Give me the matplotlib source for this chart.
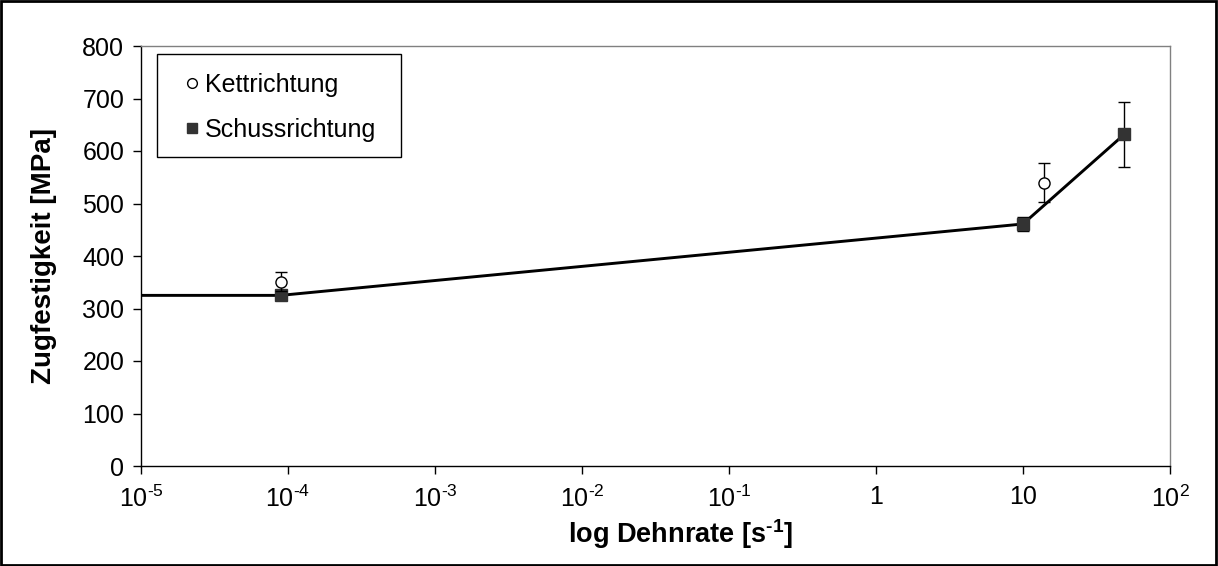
import matplotlib
matplotlib.use("Agg")
import matplotlib.pyplot as plt
from matplotlib.patches import Rectangle

plt.rcParams['font.family'] = ['Liberation Sans', 'DejaVu Sans']
plt.rcParams['mathtext.fontset'] = 'custom'
plt.rcParams['mathtext.rm'] = 'Liberation Sans'
plt.rcParams['mathtext.bf'] = 'Liberation Sans:bold'

HY = '\u2010'  # hyphen used in the exponents

# Strain rates [1/s] and tensile strength [MPa]
kett_rate = [8.9e-5, 13.9]
kett_strength = [351, 540]
kett_err = [18, 37]

schuss_rate = [8.9e-5, 10.0, 49.0]
schuss_strength = [325, 461, 632]
schuss_err = [7, 13, 62]

# Fitted trend line through the weft-direction values
fit_rate = [1e-5, 8.9e-5, 10.0, 49.0]
fit_strength = [325, 325, 461, 632]

legend_labels = ['Kettrichtung', 'Schussrichtung']

xtick_vals = [1e-5, 1e-4, 1e-3, 1e-2, 1e-1, 1, 10, 100]
xtick_labels = ['$\\mathregular{10^{' + HY + '5}}$', '$\\mathregular{10^{' + HY + '4}}$',
                '$\\mathregular{10^{' + HY + '3}}$', '$\\mathregular{10^{' + HY + '2}}$',
                '$\\mathregular{10^{' + HY + '1}}$', '1', '10', '$\\mathregular{10^{2}}$']
ytick_vals = [0, 100, 200, 300, 400, 500, 600, 700, 800]

fig = plt.figure(figsize=(12.18, 5.66), dpi=100)
ax = fig.add_axes([141/1218, 1 - 466/566, (1170-141)/1218, (466-46)/566])

ax.plot(fit_rate, fit_strength, color='black', lw=2.1, zorder=2)
ax.errorbar(schuss_rate, schuss_strength, yerr=schuss_err, fmt='s', ms=8,
            mfc='#333333', mec='#333333', ecolor='black', elinewidth=1,
            capsize=4, capthick=1, zorder=3)
ax.errorbar(kett_rate, kett_strength, yerr=kett_err, fmt='o', ms=8,
            mfc='white', mec='black', mew=1, ecolor='black', elinewidth=1,
            capsize=4, capthick=1, zorder=4)

ax.set_xscale('log')
ax.set_xlim(1e-5, 100)
ax.set_ylim(0, 800)
ax.set_xticks(xtick_vals)
ax.set_xticklabels(xtick_labels)
ax.minorticks_off()
ax.set_yticks(ytick_vals)
ax.tick_params(axis='both', labelsize=18, direction='out', length=6, width=1,
               color='black')
ax.tick_params(axis='x', pad=8)
ax.tick_params(axis='y', pad=6)

for side in ['top', 'right']:
    ax.spines[side].set_color('#808080')
    ax.spines[side].set_linewidth(1)
for side in ['left', 'bottom']:
    ax.spines[side].set_color('black')
    ax.spines[side].set_linewidth(1)

ax.set_xlabel('log Dehnrate [s$^{\\mathbf{' + HY + '1}}$]', fontsize=19.5,
              fontweight='bold', labelpad=4)
ax.xaxis.label.set_x(0.524)
ax.set_ylabel('Zugfestigkeit [MPa]', fontsize=20, fontweight='bold', labelpad=18)

# Legend box drawn in axes coordinates
ax.add_patch(Rectangle((0.0156, 0.7357), 0.2371, 0.2453, transform=ax.transAxes,
                       facecolor='white', edgecolor='black', lw=1, zorder=5))
ax.plot([0.0496], [0.912], transform=ax.transAxes, ls='none', marker='o', ms=7,
        mfc='white', mec='black', mew=1, zorder=6, clip_on=False)
ax.plot([0.0496], [0.8048], transform=ax.transAxes, ls='none', marker='s', ms=7,
        mfc='#333333', mec='#333333', zorder=6, clip_on=False)
ax.text(0.0622, 0.912, legend_labels[0], transform=ax.transAxes, fontsize=18,
        va='center_baseline', ha='left', zorder=6)
ax.text(0.0622, 0.8048, legend_labels[1], transform=ax.transAxes, fontsize=18,
        va='center_baseline', ha='left', zorder=6)

# Outer frame around the whole figure
fig.patches.append(Rectangle((0.001, 0.002), 0.997, 0.996, transform=fig.transFigure,
                             fill=False, edgecolor='black', lw=2))

fig.savefig('out.png', dpi=100)
